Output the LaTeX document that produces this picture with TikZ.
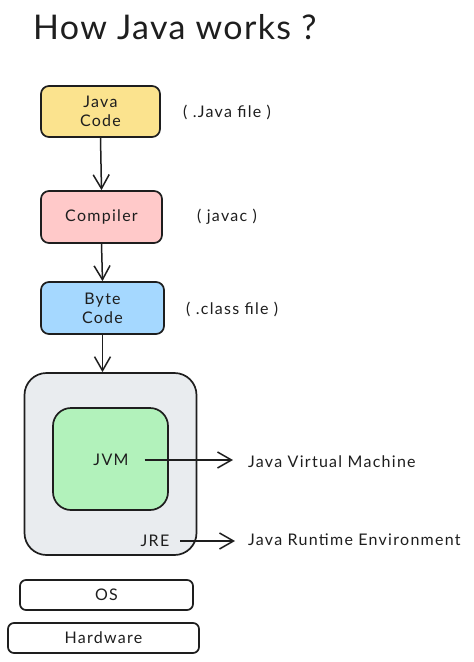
\documentclass[tikz,border=0pt]{standalone}
\usepackage{fontspec}
\setmainfont{Lato}[LetterSpace=8]
\newfontfamily\titlefont{Lato}[LetterSpace=4]
\usetikzlibrary{arrows.meta}
\definecolor{ink}{HTML}{1E1E1E}
\definecolor{yel}{HTML}{FBE38E}
\definecolor{pnk}{HTML}{FFC9C9}
\definecolor{blu}{HTML}{A5D8FF}
\definecolor{gry}{HTML}{E9ECEF}
\definecolor{grn}{HTML}{B2F2BB}
\begin{document}
\begin{tikzpicture}[x=1pt,y=-1pt,
  box/.style={draw=ink,line width=1.7pt,rounded corners=8pt,inner sep=0pt,align=center,text=ink,font=\fontsize{16}{19}\selectfont},
  arr/.style={draw=ink,line width=1.5pt,-{Straight Barb[length=14pt,width=16pt]}},
  lbl/.style={text=ink,inner sep=0pt,font=\fontsize{16}{19}\selectfont}]
\useasboundingbox[fill=white] (0,0) rectangle (474,662);
\node[lbl,anchor=west,font=\titlefont\fontsize{34}{40}\selectfont] (title) at (33,27) {How Java works ?};
\node[box,fill=yel,minimum width=119pt,minimum height=51pt] (java) at (100.5,111.5) {Java\\Code};
\node[box,fill=pnk,minimum width=121pt,minimum height=52pt] (comp) at (101.5,217) {Compiler};
\node[box,fill=blu,minimum width=123pt,minimum height=52pt] (byte) at (102.5,308) {Byte\\Code};
\node[box,fill=gry,rounded corners=22pt,minimum width=172pt,minimum height=182pt] (jre) at (110.5,464) {};
\node[box,fill=grn,rounded corners=18pt,minimum width=115pt,minimum height=102pt] (jvm) at (110.5,459) {};
\node[box,fill=white,rounded corners=6pt,minimum width=173pt,minimum height=30pt] (os) at (106.5,595) {OS};
\node[box,fill=white,rounded corners=6pt,minimum width=191pt,minimum height=30pt] (hw) at (103.5,638) {Hardware};
\node[lbl,anchor=west] (ljava) at (183,112) {( .Java file )};
\node[lbl,anchor=west] (lcomp) at (197,217) {( javac )};
\node[lbl,anchor=west] (lbyte) at (186,309) {( .class file )};
\node[lbl] (jvmt) at (111,460) {JVM};
\node[lbl] (jret) at (155,541) {JRE};
\node[lbl,anchor=west] (vmt) at (248,462) {Java Virtual Machine};
\node[lbl,anchor=west] (ret) at (248,540) {Java Runtime Environment};
\draw[arr] (java.south) -- (comp.north);
\draw[arr] (comp.south) -- (byte.north);
\draw[arr] (byte.south) -- (byte.south |- jre.north);
\draw[arr,shorten <=16pt,shorten >=15pt] (jvmt.east) -- (vmt.west |- jvmt.east);
\draw[arr,shorten <=11pt,shorten >=13pt] (jret.east) -- (ret.west |- jret.east);
\end{tikzpicture}
\end{document}
